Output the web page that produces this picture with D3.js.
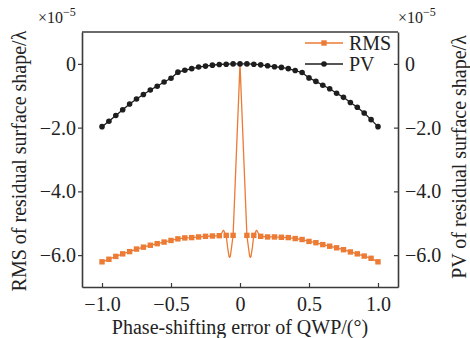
<!DOCTYPE html>
<html>
<head>
<meta charset="utf-8">
<script src="https://cdn.jsdelivr.net/npm/d3@7"></script>
<style>
  body { margin: 0; background: #fff; }
  svg { display: block; }
  text { font-family: "Liberation Serif", "DejaVu Serif", serif; fill: #222; }
</style>
</head>
<body>
<div id="chart"></div>
<script>
// phase-shifting error of QWP (degrees)
var xValues = [-1.0, -0.95, -0.9, -0.85, -0.8, -0.75, -0.7, -0.65, -0.6, -0.55, -0.5,
               -0.45, -0.4, -0.35, -0.3, -0.25, -0.2, -0.15, -0.1, -0.05, 0,
               0.05, 0.1, 0.15, 0.2, 0.25, 0.3, 0.35, 0.4, 0.45, 0.5,
               0.55, 0.6, 0.65, 0.7, 0.75, 0.8, 0.85, 0.9, 0.95, 1.0];

// PV (x1e-5 lambda)
var pvValues = [-1.97, -1.80, -1.62, -1.44, -1.26, -1.10, -0.96, -0.82, -0.70, -0.57, -0.45,
                -0.26, -0.20, -0.15, -0.10, -0.07, -0.04, -0.02, -0.01, 0, 0,
                0, -0.01, -0.03, -0.06, -0.09, -0.11, -0.15, -0.21, -0.27, -0.44,
                -0.55, -0.67, -0.78, -0.92, -1.05, -1.21, -1.36, -1.54, -1.75, -1.97];

// RMS markers (x1e-5 lambda), none at 0
var rmsValues = [-6.21, -6.13, -6.04, -5.96, -5.89, -5.81, -5.75, -5.69, -5.64, -5.59, -5.54,
                 -5.49, -5.46, -5.45, -5.43, -5.41, -5.40, -5.39, -5.38, -5.38, null,
                 -5.38, -5.38, -5.41, -5.43, -5.43, -5.44, -5.45, -5.48, -5.51, -5.57,
                 -5.61, -5.67, -5.72, -5.77, -5.83, -5.90, -5.96, -6.03, -6.10, -6.21];

// extra points of the RMS curve around zero error
var rmsCenterX = [-0.135, -0.125, -0.12, -0.115, -0.105, -0.09, -0.08, -0.075, -0.07, -0.06,
                  0,
                  0.06, 0.07, 0.075, 0.08, 0.09, 0.105, 0.115, 0.12, 0.125, 0.135];
var rmsCenterY = [-5.33, -5.25, -5.22, -5.25, -5.35, -5.75, -6.03, -6.07, -6.03, -5.72,
                  0,
                  -5.72, -6.03, -6.07, -6.03, -5.75, -5.35, -5.25, -5.22, -5.25, -5.33];

var xTicks = [-1.0, -0.5, 0, 0.5, 1.0];
var yTicks = [0, -2, -4, -6];
var seriesNames = ["RMS", "PV"];

var width = 470, height = 338;
var margin = { left: 82, right: 72, top: 32, bottom: 51 };
var orange = "#ec7b35", dark = "#1e1e1e", axisColor = "#3a3a3a";
var fontSize = 20;

var svg = d3.select("#chart").append("svg")
    .attr("width", width)
    .attr("height", height);

var x = d3.scaleLinear().domain([-1.145, 1.145]).range([margin.left, width - margin.right]);
var y = d3.scaleLinear().domain([-7, 1]).range([height - margin.bottom, margin.top]);
var y2 = d3.scaleLinear().domain([-7, 1]).range([height - margin.bottom, margin.top]);

function fmt(d) {
    if (d === 0) return "0";
    return d3.format(".1f")(d).replace("-", "\u2212");
}

// axes
var gx = svg.append("g")
    .attr("transform", "translate(0," + (height - margin.bottom) + ")")
    .call(d3.axisBottom(x).tickValues(xTicks).tickSizeInner(-4).tickSizeOuter(0).tickPadding(10).tickFormat(fmt));
var gy = svg.append("g")
    .attr("transform", "translate(" + margin.left + ",0)")
    .call(d3.axisLeft(y).tickValues(yTicks).tickSizeInner(4).tickSizeOuter(0).tickPadding(2).tickFormat(fmt));
var gy2 = svg.append("g")
    .attr("transform", "translate(" + (width - margin.right) + ",0)")
    .call(d3.axisRight(y2).tickValues(yTicks).tickSizeInner(-4).tickSizeOuter(0).tickPadding(7).tickFormat(fmt));

[gx, gy, gy2].forEach(function (g) {
    g.selectAll("text").attr("font-size", fontSize).attr("fill", "#222")
        .attr("font-family", "Liberation Serif, serif");
    g.selectAll("line").attr("stroke", axisColor).attr("stroke-width", 1.2);
    g.select(".domain").attr("stroke", axisColor).attr("stroke-width", 1.6);
});

// top border
svg.append("line")
    .attr("x1", margin.left).attr("x2", width - margin.right)
    .attr("y1", margin.top).attr("y2", margin.top)
    .attr("stroke", axisColor).attr("stroke-width", 1.6);

// RMS curve
var rmsPoints = [];
xValues.forEach(function (d, i) {
    if (rmsValues[i] !== null) rmsPoints.push({ x: d, y: rmsValues[i] });
});
rmsCenterX.forEach(function (d, i) { rmsPoints.push({ x: d, y: rmsCenterY[i] }); });
rmsPoints.sort(function (a, b) { return a.x - b.x; });

var line = d3.line().x(function (d) { return x(d.x); }).y(function (d) { return y(d.y); });

svg.append("path")
    .datum(rmsPoints)
    .attr("d", line)
    .attr("fill", "none")
    .attr("stroke", orange)
    .attr("stroke-width", 1.3)
    .attr("stroke-linejoin", "round");

svg.selectAll(".rms-mark")
    .data(xValues.map(function (d, i) { return { x: d, y: rmsValues[i] }; })
        .filter(function (d) { return d.y !== null; }))
    .enter().append("rect")
    .attr("class", "rms-mark")
    .attr("x", function (d) { return x(d.x) - 2.7; })
    .attr("y", function (d) { return y(d.y) - 2.7; })
    .attr("width", 5.4).attr("height", 5.4)
    .attr("fill", orange);

// PV curve
var pvPoints = xValues.map(function (d, i) { return { x: d, y: pvValues[i] }; });
svg.append("path")
    .datum(pvPoints)
    .attr("d", d3.line().x(function (d) { return x(d.x); }).y(function (d) { return y2(d.y); }))
    .attr("fill", "none")
    .attr("stroke", dark)
    .attr("stroke-width", 1.3);

svg.selectAll(".pv-mark")
    .data(pvPoints)
    .enter().append("circle")
    .attr("class", "pv-mark")
    .attr("cx", function (d) { return x(d.x); })
    .attr("cy", function (d) { return y2(d.y); })
    .attr("r", 2.8)
    .attr("fill", dark);

// legend
var legend = svg.append("g").attr("transform", "translate(305,43)");
seriesNames.forEach(function (name, i) {
    var g = legend.append("g").attr("transform", "translate(0," + (i * 21) + ")");
    var c = i === 0 ? orange : dark;
    g.append("line").attr("x1", 0).attr("x2", 38).attr("y1", 0).attr("y2", 0)
        .attr("stroke", c).attr("stroke-width", 1.3);
    if (i === 0) {
        g.append("rect").attr("x", 16.3).attr("y", -2.7).attr("width", 5.4).attr("height", 5.4).attr("fill", c);
    } else {
        g.append("circle").attr("cx", 19).attr("cy", 0).attr("r", 2.8).attr("fill", c);
    }
    g.append("text").attr("x", 44).attr("y", 7).attr("font-size", fontSize).text(name);
});

// exponent labels
function expLabel(xp) {
    var t = svg.append("text").attr("x", xp).attr("y", 23).attr("font-size", 16);
    t.append("tspan").text("\u00d710");
    t.append("tspan").attr("dy", -7).attr("font-size", 12).text("\u22125");
}
expLabel(38);
expLabel(398);

// axis titles
svg.append("text")
    .attr("x", (margin.left + width - margin.right) / 2)
    .attr("y", 334)
    .attr("text-anchor", "middle")
    .attr("font-size", fontSize)
    .text("Phase-shifting error of QWP/(\u00b0)");

svg.append("text")
    .attr("transform", "translate(26,161) rotate(-90)")
    .attr("text-anchor", "middle")
    .attr("font-size", fontSize)
    .text("RMS of residual surface shape/\u03bb");

svg.append("text")
    .attr("transform", "translate(466,157) rotate(-90)")
    .attr("text-anchor", "middle")
    .attr("font-size", fontSize)
    .text("PV of residual surface shape/\u03bb");
</script>
</body>
</html>
